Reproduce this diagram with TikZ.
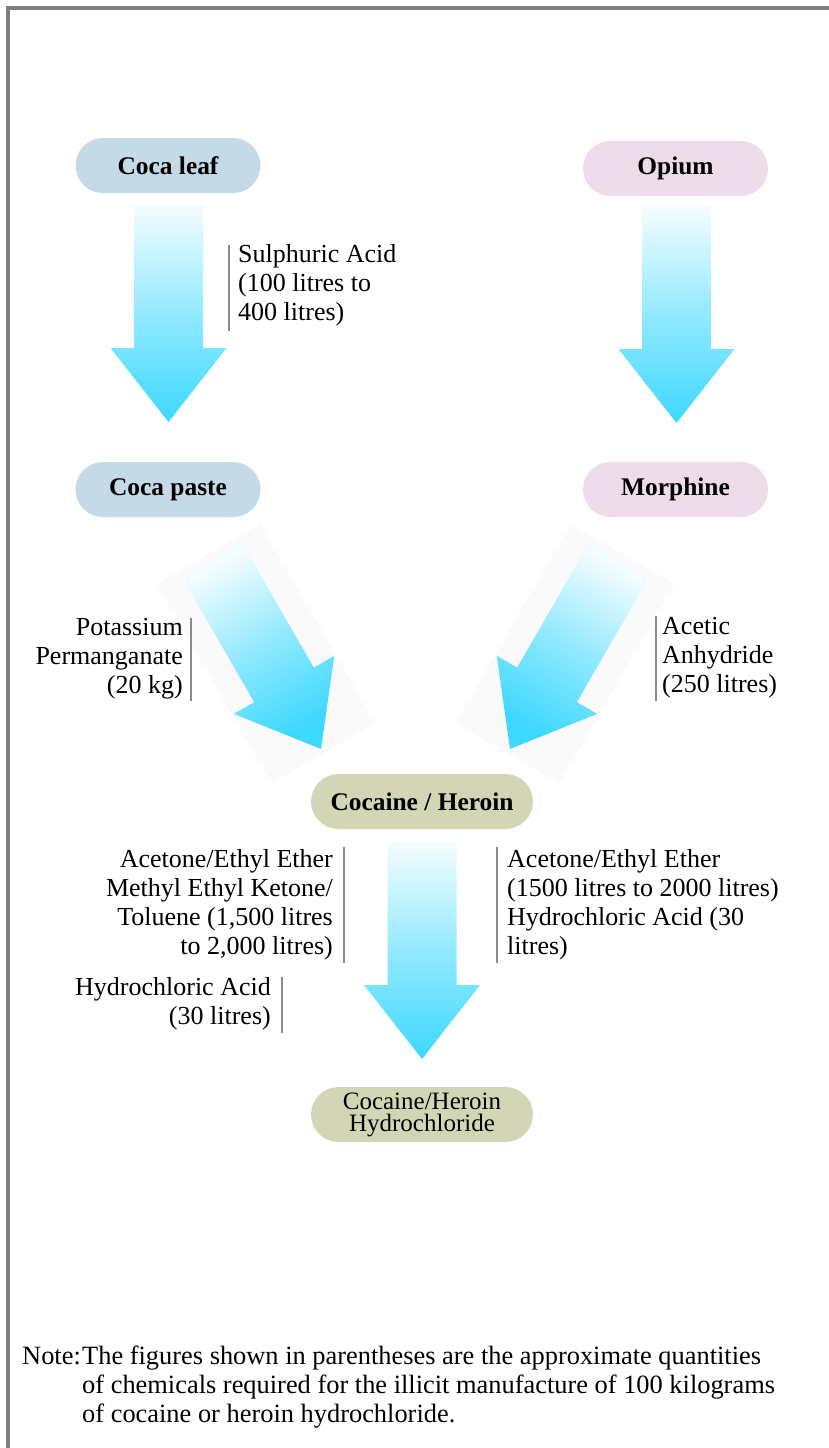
\documentclass[tikz,border=0pt]{standalone}
\usepackage{fontspec}
\setmainfont{Liberation Serif}
\usetikzlibrary{calc}
\definecolor{framegray}{HTML}{808080}
\definecolor{barclr}{HTML}{8A8A8A}
\definecolor{cocablue}{HTML}{C6D9E6}
\definecolor{opiumpink}{HTML}{EEDCE8}
\definecolor{khaki}{HTML}{D3D6B5}
\definecolor{arrtop}{HTML}{F4FDFF}
\definecolor{arrmid}{HTML}{93E9FF}
\definecolor{arrbot}{HTML}{3DD8FF}
\definecolor{ghost}{HTML}{FAFAFB}
\tikzset{
  pill/.style={rounded corners=27.5pt, minimum width=185pt, minimum height=55pt,
    inner sep=0pt, font=\fontsize{25.4}{29}\selectfont\bfseries},
  widepill/.style={pill, minimum width=222pt},
  lbl/.style={inner sep=0pt, font=\fontsize{26}{29}\selectfont},
  bar/.style={draw=barclr, line width=2pt},
  pics/blockarr/.style={code={
    \shade[top color=arrtop, bottom color=arrbot, middle color=arrmid, shading angle=#1]
      (-34.5,0) -- (34.5,0) -- (34.5,143) -- (58,143) -- (0,217) -- (-58,143) -- (-34.5,143) -- cycle;
  }},
  pics/ghostbox/.style={code={
    \fill[ghost] (-60,-8) -- (60,-8) -- (60,222) -- (-60,222) -- cycle;
  }},
}
\begin{document}
\begin{tikzpicture}[x=1pt, y=-1pt]
\useasboundingbox (0,0) rectangle (829,1448);
% frame (top and left edges)
\fill[framegray] (6,6) rectangle (829,10);
\fill[framegray] (6,6) rectangle (10,1448);

% nodes
\node[pill, fill=cocablue] (coca) at (168,165.5) {Coca leaf};
\node[pill, fill=opiumpink] (opium) at (675.5,168.5) {Opium};
\node[pill, fill=cocablue] (paste) at (168,489.5) {Coca paste};
\node[pill, fill=opiumpink] (morph) at (675.5,489.5) {Morphine};
\node[widepill, fill=khaki] (coh) at (422,801.5) {Cocaine / Heroin};
\node[widepill, fill=khaki, font=\fontsize{25}{22}\selectfont, align=center] (hcl) at (422,1114.5) {Cocaine/Heroin\\Hydrochloride};

% arrow anchors
\coordinate (a1) at (168.5,205);
\coordinate (a2) at (676.5,206);
\coordinate (a3) at (212.5,561);
\coordinate (a4) at (618.5,561);
\coordinate (a5) at (422,842);

% faint boxes behind the tilted arrows
\pic[rotate=30] at (a3) {ghostbox};
\pic[rotate=-30] at (a4) {ghostbox};

% block arrows
\pic at (a1) {blockarr=0};
\pic at (a2) {blockarr=0};
\pic[rotate=30] at (a3) {blockarr=30};
\pic[rotate=-30] at (a4) {blockarr=-30};
\pic at (a5) {blockarr=0};

% labels (anchored at the baseline of their last line)
\node[lbl, anchor=base west, align=left] (l1) at (238,320) {Sulphuric Acid\\(100 litres to\\400 litres)};
\node[lbl, anchor=base east, align=right] (l2) at (183,693) {Potassium\\Permanganate\\(20 kg)};
\node[lbl, anchor=base west, align=left] (l3) at (662,692) {Acetic\\Anhydride\\(250 litres)};
\node[lbl, anchor=base east, align=right] (l4) at (333,954) {Acetone/Ethyl Ether\\Methyl Ethyl Ketone/\\Toluene (1,500 litres\\to 2,000 litres)};
\node[lbl, anchor=base east, align=right] (l5) at (271,1024) {Hydrochloric Acid\\(30 litres)};
\node[lbl, anchor=base west, align=left] (l6) at (507,954) {Acetone/Ethyl Ether\\(1500 litres to 2000 litres)\\Hydrochloric Acid (30\\litres)};

% label bars
\draw[bar] (229,245) -- (229,331);
\draw[bar] (191,618) -- (191,701);
\draw[bar] (656,616) -- (656,701);
\draw[bar] (343.5,847) -- (343.5,963);
\draw[bar] (282,977) -- (282,1033);
\draw[bar] (497,847) -- (497,963);

% note
\node[lbl, font=\fontsize{26.4}{29}\selectfont, anchor=base west] (nl) at (22,1364) {Note:};
\node[lbl, font=\fontsize{26.4}{29}\selectfont, anchor=base west, align=left] (nt) at (82,1422) {The figures shown in parentheses are the approximate quantities\\of chemicals required for the illicit manufacture of 100 kilograms\\of cocaine or heroin hydrochloride.};
\end{tikzpicture}
\end{document}
